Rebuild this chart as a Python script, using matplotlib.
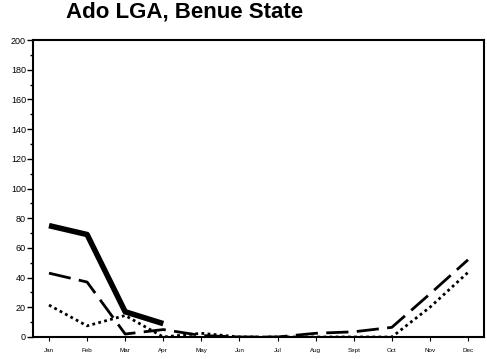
import matplotlib.pyplot as plt
from matplotlib.ticker import MultipleLocator

plt.rcParams["font.family"] = ["Liberation Sans", "DejaVu Sans"]

months = ["Jan", "Feb", "Mar", "Apr", "May", "Jun", "Jul", "Aug", "Sept", "Oct", "Nov", "Dec"]
solid_vals = [75, 69, 17, 9]
dashed_vals = [43, 37, 2, 5, 1, 0, 0, 2.5, 3.5, 6.5, 29, 52]
dotted_vals = [21.5, 7.5, 14.5, 0, 2.5, 0, 0, 0, 0, 0, 20, 43.5]

x = list(range(len(months)))

fig = plt.figure(figsize=(4.87, 3.59), dpi=100)
ax = fig.add_axes([33 / 487, 22 / 359, 451 / 487, 297 / 359])

ax.plot(x[:len(solid_vals)], solid_vals, color="black", lw=4, solid_capstyle="butt")
ax.plot(x, dashed_vals, color="black", lw=2, dashes=(8, 3))
ax.plot(x, dotted_vals, color="black", lw=2, dashes=(1, 1.2))

ax.set_xlim(-0.42, 11.42)
ax.set_ylim(0, 200)
ax.set_xticks(x)
ax.set_xticklabels(months, fontsize=4.5)
ax.yaxis.set_major_locator(MultipleLocator(20))
ax.yaxis.set_minor_locator(MultipleLocator(10))
ax.tick_params(axis="y", labelsize=6.5, length=4, width=1, pad=1)
ax.tick_params(axis="y", which="minor", length=2.5, width=1)
ax.tick_params(axis="x", length=3, width=0.8, pad=5)
for s in ax.spines.values():
    s.set_linewidth(1.5)

fig.text(185 / 487, 1 - 12 / 359, "Ado LGA, Benue State", ha="center", va="center",
         fontsize=16, fontweight="bold")

fig.savefig("out.png", dpi=100)
